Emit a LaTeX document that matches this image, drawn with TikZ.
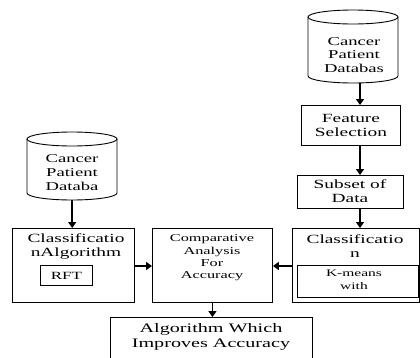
\documentclass[tikz,border=0pt]{standalone}
\usepackage{fontspec}
\newfontfamily\wf[FakeStretch=1.55]{Liberation Serif}
\usetikzlibrary{arrows.meta}
\begin{document}
\begin{tikzpicture}[x=1pt,y=-1pt,
  box/.style={draw, line width=0.9pt, inner sep=0pt, anchor=north west},
  area/.style={inner sep=0pt, anchor=north west},
  outline/.style={line width=0.9pt},
  txt/.style={inner sep=0pt, align=center, font=\wf\fontsize{12.5}{14}\selectfont},
  smalltxt/.style={inner sep=0pt, align=center, font=\wf\fontsize{10.5}{12.4}\selectfont},
  tinytxt/.style={inner sep=0pt, align=center, font=\wf\fontsize{10}{13}\selectfont},
  bigtxt/.style={inner sep=0pt, align=center, font=\wf\fontsize{13}{15}\selectfont},
  arr/.style={line width=1.6pt, -{Triangle[width=8pt,length=6pt]}}
]
\useasboundingbox (0,0) rectangle (420,357);
\fill[white] (0,0) rectangle (420,357);
\clip (0,0) rectangle (420,357);

% right database cylinder
\node[area, minimum width=90pt, minimum height=73pt] (db2) at (308,10) {};
\draw[outline] (308,17) -- (308,76) arc[start angle=180,end angle=360,x radius=45pt,y radius=7pt] -- (398,17);
\draw[outline] (353,17) ellipse[x radius=45pt,y radius=7pt];
\node[txt, font=\wf\fontsize{12}{13.5}\selectfont] (db2t) at (354,55) {Cancer\\Patient\\Databas};

% left database cylinder
\node[area, minimum width=90pt, minimum height=68pt] (db1) at (27,132) {};
\draw[outline] (27,139) -- (27,193) arc[start angle=180,end angle=360,x radius=45pt,y radius=7pt] -- (117,139);
\draw[outline] (72,139) ellipse[x radius=45pt,y radius=7pt];
\node[txt, font=\wf\fontsize{12}{14}\selectfont] (db1t) at (72,173) {Cancer\\Patient\\Databa};

% right column boxes
\node[box, minimum width=99pt, minimum height=40pt] (fs) at (301,105) {};
\node[txt] (fst) at (fs.center) {Feature\\Selection};
\node[box, minimum width=106pt, minimum height=33pt] (sub) at (297,175) {};
\node[txt] (subt) at (350,191) {Subset of\\Data};
\node[box, minimum width=127pt, minimum height=74pt] (cls2) at (292,228) {};
\node[txt] (cls2t) at (355,246) {Classificatio\\n};
\node[box, minimum width=121pt, minimum height=32pt] (km) at (297,265) {};
\node[tinytxt] (kmt) at (354,280) {K-means\\with};

% left classification box
\node[box, minimum width=122pt, minimum height=74pt] (cls1) at (12,228) {};
\node[txt] (cls1t) at (76,246.5) {Classificatio\\nAlgorithm};
\node[box, minimum width=52pt, minimum height=20pt] (rft) at (40,265) {};
\node[txt, font=\wf\fontsize{11}{13}\selectfont] (rftt) at (rft.center) {RFT};

% comparative box
\node[box, minimum width=120pt, minimum height=74pt] (comp) at (152,228) {};
\node[smalltxt] (compt) at (212,258) {Comparative\\Analysis\\For\\Accuracy};

% final box
\node[box, minimum width=202pt, minimum height=50pt] (final) at (110,317) {};
\node[bigtxt] (finalt) at (211,337) {Algorithm Which\\Improves Accuracy};

% connectors
\coordinate (xr) at (360,0);
\coordinate (ya) at (0,266);
\draw[arr] (db2.south -| xr) -- (fs.north -| xr);
\draw[arr] (fs.south -| xr) -- (sub.north -| xr);
\draw[arr] (sub.south -| xr) -- (cls2.north -| xr);
\draw[arr] (db1.south) -- (db1.south |- cls1.north);
\draw[arr] (cls1.east |- ya) -- (comp.west |- ya);
\draw[arr] (cls2.west |- ya) -- (comp.east |- ya);
\draw[arr] (comp.south) -- (comp.south |- final.north);
\end{tikzpicture}
\end{document}
